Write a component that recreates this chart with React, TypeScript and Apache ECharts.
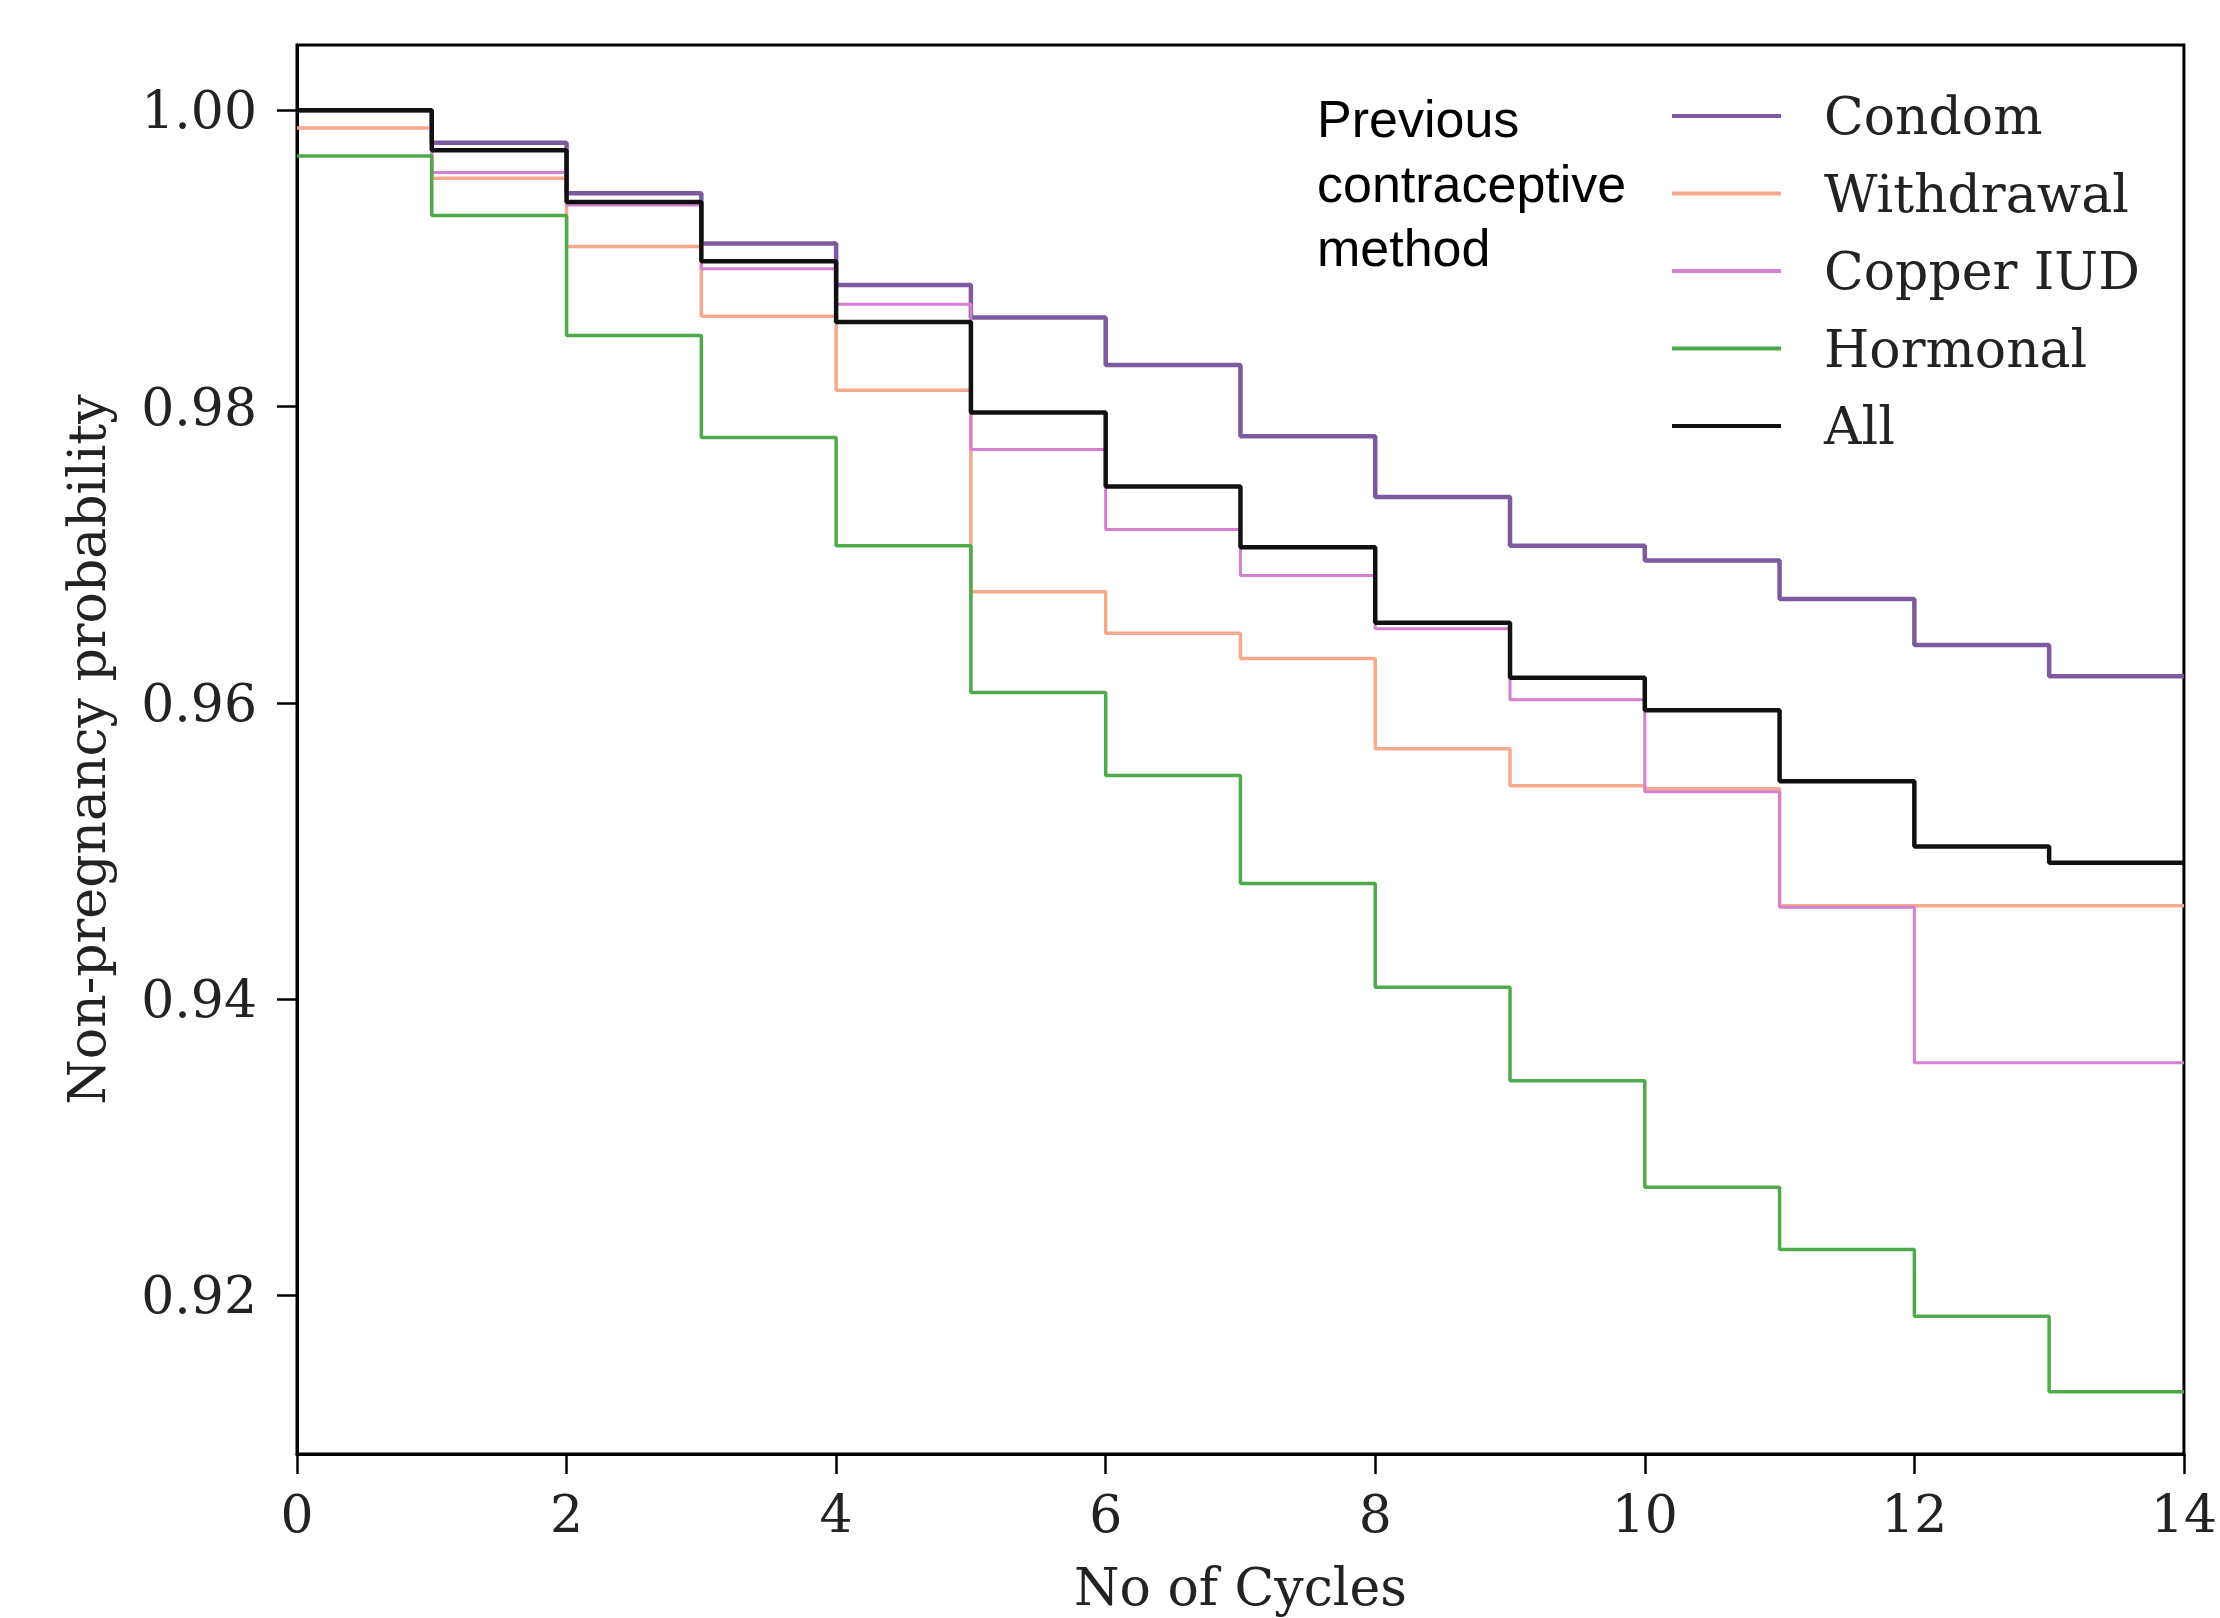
import React, { useEffect, useRef } from "react";
import * as echarts from "echarts";

// Cycle boundaries (x positions of the steps)
const cycles = [0, 1, 2, 3, 4, 5, 6, 7, 8, 9, 10, 11, 12, 13, 14];

// Non-pregnancy probability during each cycle interval [i, i+1)
const condom = [1.0, 0.9978, 0.9944, 0.991, 0.9882, 0.986, 0.9828, 0.978, 0.9739, 0.9706, 0.9696, 0.967, 0.9639, 0.9618];
const withdrawal = [0.9988, 0.9954, 0.9908, 0.9861, 0.9811, 0.9675, 0.9647, 0.963, 0.9569, 0.9544, 0.9542, 0.9463, 0.9463, 0.9463];
const copperIUD = [1.0, 0.9958, 0.9936, 0.9893, 0.9869, 0.9771, 0.9717, 0.9686, 0.965, 0.9602, 0.954, 0.9462, 0.9357, 0.9357];
const hormonal = [0.9969, 0.9929, 0.9848, 0.9779, 0.9706, 0.9607, 0.9551, 0.9478, 0.9408, 0.9345, 0.9273, 0.9231, 0.9186, 0.9135];
const allMethods = [1.0, 0.9973, 0.9938, 0.9898, 0.9857, 0.9796, 0.9746, 0.9705, 0.9654, 0.9617, 0.9595, 0.9547, 0.9503, 0.9492];

const seriesNames = ["Condom", "Withdrawal", "Copper IUD", "Hormonal", "All"];
const yTicks = [0.92, 0.94, 0.96, 0.98, 1.0];
const xTicks = [0, 2, 4, 6, 8, 10, 12, 14];

const legendTitle = "Previous\ncontraceptive\nmethod";
const xName = "No of Cycles";
const yName = "Non-pregnancy probability";

function toSteps(values: number[]) {
  const pts = values.map((v, i) => [cycles[i], v]);
  pts.push([cycles[values.length], values[values.length - 1]]);
  return pts;
}

export default function App() {
  const ref = useRef<HTMLDivElement>(null);

  useEffect(() => {
    if (!ref.current) return;
    const chart = echarts.init(ref.current, undefined, { renderer: "svg" });

    const serif = "DejaVu Serif";
    const styles = [
      { color: "#7d5a9f", width: 4.5 },
      { color: "#f6a98d", width: 3.5 },
      { color: "#d67ecf", width: 3 },
      { color: "#4eaa4a", width: 3.5 },
      { color: "#111111", width: 4.5 },
    ];
    const dataSets = [condom, withdrawal, copperIUD, hormonal, allMethods];

    chart.setOption({
      animation: false,
      backgroundColor: "#ffffff",
      grid: {
        left: 297,
        right: 24,
        top: 45,
        bottom: 164,
        show: true,
        borderColor: "#000",
        borderWidth: 3,
        backgroundColor: "transparent",
      },
      xAxis: {
        type: "value",
        min: 0,
        max: 14,
        interval: 2,
        name: xName,
        nameLocation: "middle",
        nameGap: 107,
        nameTextStyle: { fontFamily: serif, fontSize: 52, color: "#222", lineHeight: 52 },
        axisLine: { show: true, lineStyle: { color: "#000", width: 3 } },
        axisTick: { show: true, length: 20, lineStyle: { color: "#000", width: 2.5 } },
        axisLabel: {
          fontFamily: serif,
          fontSize: 52,
          color: "#222",
          margin: 34,
          customValues: xTicks,
        },
        splitLine: { show: false },
      },
      yAxis: {
        type: "value",
        min: 0.9093,
        max: 1.0044,
        name: yName,
        nameLocation: "middle",
        nameGap: 184,
        nameTextStyle: { fontFamily: serif, fontSize: 52, color: "#222", lineHeight: 52 },
        axisLine: { show: true, lineStyle: { color: "#000", width: 3 } },
        axisTick: { show: true, length: 20, lineStyle: { color: "#000", width: 2.5 }, customValues: yTicks },
        axisLabel: {
          fontFamily: serif,
          fontSize: 52,
          color: "#222",
          margin: 40,
          customValues: yTicks,
          formatter: (v: number) => v.toFixed(2),
        },
        splitLine: { show: false },
      },
      legend: {
        orient: "vertical",
        left: 1672,
        top: 90,
        padding: 0,
        itemGap: 25.5,
        itemWidth: 109,
        itemHeight: 4,
        icon: "rect",
        data: seriesNames,
        textStyle: {
          fontFamily: serif,
          fontSize: 52,
          color: "#222",
          lineHeight: 52,
          padding: [0, 0, 0, 38],
        },
      },
      graphic: [
        {
          type: "text",
          left: 1317,
          top: 87,
          style: {
            text: legendTitle,
            fontFamily: "Liberation Sans",
            fontSize: 52,
            lineHeight: 64.5,
            fill: "#000",
          },
        },
      ],
      series: seriesNames.map((name, i) => ({
        name,
        type: "line",
        step: "end",
        symbol: "none",
        data: toSteps(dataSets[i]),
        color: styles[i].color,
        itemStyle: { color: styles[i].color },
        lineStyle: { color: styles[i].color, width: styles[i].width },
        z: 2 + i,
      })),
    });

    return () => chart.dispose();
  }, []);

  return (
    <div
      ref={ref}
      style={{ position: "fixed", left: 0, top: 0, width: 2220, height: 1618, background: "#fff" }}
    />
  );
}
